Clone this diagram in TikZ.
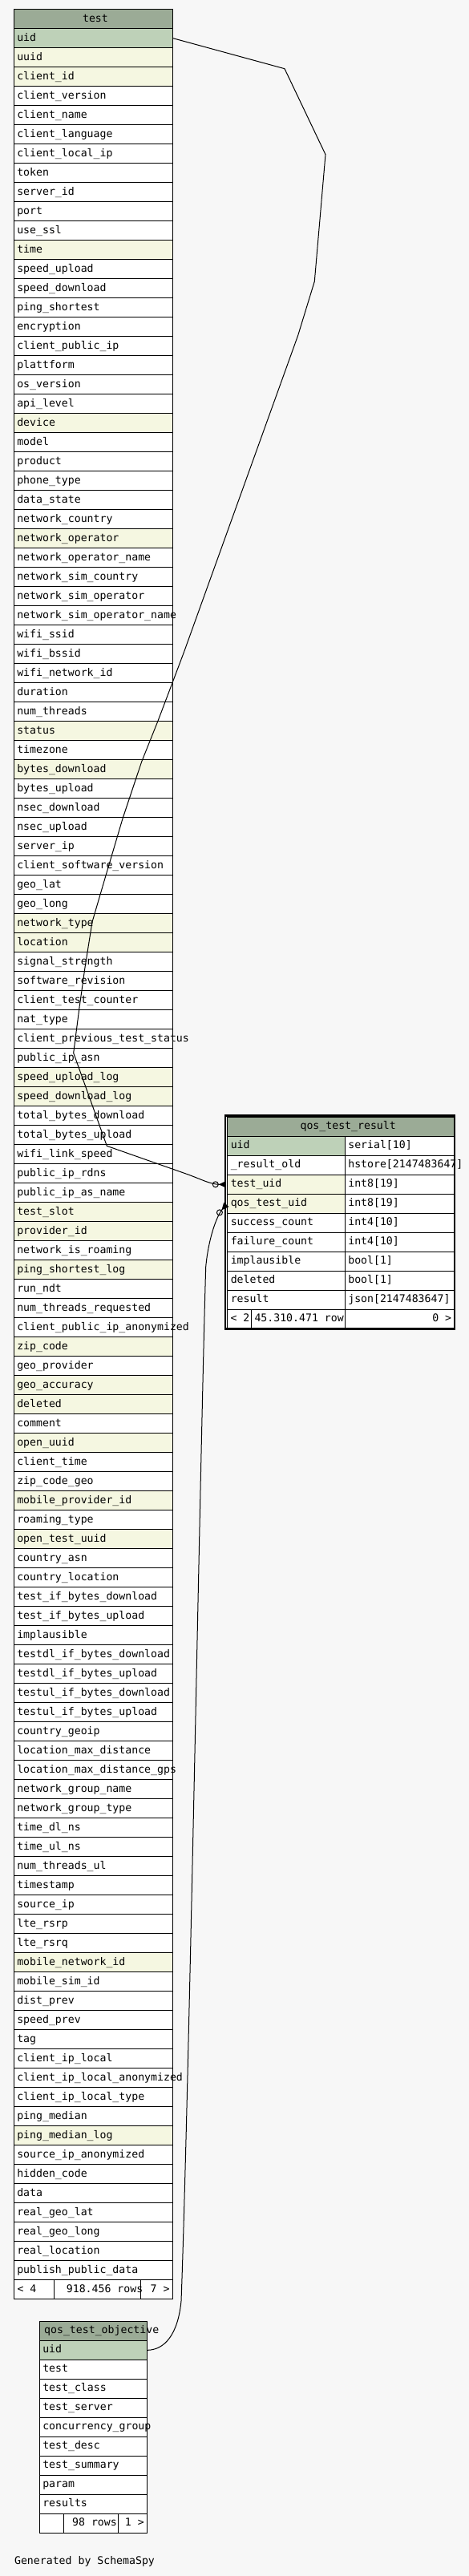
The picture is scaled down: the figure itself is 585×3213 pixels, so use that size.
\documentclass[tikz,border=0pt]{standalone}
\usepackage{fontspec}
\setmainfont{DejaVu Sans Mono}
\usetikzlibrary{arrows.meta}
\definecolor{diagbg}{HTML}{F7F7F7}
\definecolor{headgreen}{HTML}{9BAB96}
\definecolor{pkgreen}{HTML}{BED1B8}
\definecolor{ixyellow}{HTML}{F5F7E1}
\tikzset{
  celltext/.style={inner sep=0pt, text height=10pt, text depth=3pt,
    font=\fontsize{13.2pt}{15pt}\selectfont},
  plaincol/.style={celltext, draw, line width=1pt, fill=white,
    minimum height=24pt, inner xsep=4pt},
  headcol/.style={plaincol, fill=headgreen},
  pkcol/.style={plaincol, fill=pkgreen},
  ixcol/.style={plaincol, fill=ixyellow},
  fk/.style={line width=1pt, shorten >=1.5pt,
    -{Circle[open,length=8pt] Triangle[reversed,length=9pt,width=8pt]}}
}
\begin{document}
\begin{tikzpicture}[x=1pt, y=-1pt]
\useasboundingbox (0,0) rectangle (585,3213);
\fill[diagbg] (0,0) rectangle (585,3213);

% table test
\node[headcol, minimum width=198pt] (test) at (116.3,23.7) {};
\node[celltext] (test-title) at (119,23.7) {test};
\foreach \colname/\colstyle [count=\i] in {uid/pkcol, uuid/ixcol, client\_id/ixcol,
  client\_version/plaincol, client\_name/plaincol, client\_language/plaincol,
  client\_local\_ip/plaincol, token/plaincol, server\_id/plaincol, port/plaincol,
  use\_ssl/plaincol, time/ixcol, speed\_upload/plaincol, speed\_download/plaincol,
  ping\_shortest/plaincol, encryption/plaincol, client\_public\_ip/plaincol,
  plattform/plaincol, os\_version/plaincol, api\_level/plaincol, device/ixcol,
  model/plaincol, product/plaincol, phone\_type/plaincol, data\_state/plaincol,
  network\_country/plaincol, network\_operator/ixcol, network\_operator\_name/plaincol,
  network\_sim\_country/plaincol, network\_sim\_operator/plaincol,
  network\_sim\_operator\_name/plaincol, wifi\_ssid/plaincol, wifi\_bssid/plaincol,
  wifi\_network\_id/plaincol, duration/plaincol, num\_threads/plaincol, status/ixcol,
  timezone/plaincol, bytes\_download/ixcol, bytes\_upload/plaincol,
  nsec\_download/plaincol, nsec\_upload/plaincol, server\_ip/plaincol,
  client\_software\_version/plaincol, geo\_lat/plaincol, geo\_long/plaincol,
  network\_type/ixcol, location/ixcol, signal\_strength/plaincol,
  software\_revision/plaincol, client\_test\_counter/plaincol, nat\_type/plaincol,
  client\_previous\_test\_status/plaincol, public\_ip\_asn/plaincol,
  speed\_upload\_log/ixcol, speed\_download\_log/ixcol, total\_bytes\_download/plaincol,
  total\_bytes\_upload/plaincol, wifi\_link\_speed/plaincol, public\_ip\_rdns/plaincol,
  public\_ip\_as\_name/plaincol, test\_slot/ixcol, provider\_id/ixcol,
  network\_is\_roaming/plaincol, ping\_shortest\_log/ixcol, run\_ndt/plaincol,
  num\_threads\_requested/plaincol, client\_public\_ip\_anonymized/plaincol,
  zip\_code/ixcol, geo\_provider/plaincol, geo\_accuracy/ixcol, deleted/ixcol,
  comment/plaincol, open\_uuid/ixcol, client\_time/plaincol, zip\_code\_geo/plaincol,
  mobile\_provider\_id/ixcol, roaming\_type/plaincol, open\_test\_uuid/ixcol,
  country\_asn/plaincol, country\_location/plaincol, test\_if\_bytes\_download/plaincol,
  test\_if\_bytes\_upload/plaincol, implausible/plaincol,
  testdl\_if\_bytes\_download/plaincol, testdl\_if\_bytes\_upload/plaincol,
  testul\_if\_bytes\_download/plaincol, testul\_if\_bytes\_upload/plaincol,
  country\_geoip/plaincol, location\_max\_distance/plaincol,
  location\_max\_distance\_gps/plaincol, network\_group\_name/plaincol,
  network\_group\_type/plaincol, time\_dl\_ns/plaincol, time\_ul\_ns/plaincol,
  num\_threads\_ul/plaincol, timestamp/plaincol, source\_ip/plaincol, lte\_rsrp/plaincol,
  lte\_rsrq/plaincol, mobile\_network\_id/ixcol, mobile\_sim\_id/plaincol,
  dist\_prev/plaincol, speed\_prev/plaincol, tag/plaincol, client\_ip\_local/plaincol,
  client\_ip\_local\_anonymized/plaincol, client\_ip\_local\_type/plaincol,
  ping\_median/plaincol, ping\_median\_log/ixcol, source\_ip\_anonymized/plaincol,
  hidden\_code/plaincol, data/plaincol, real\_geo\_lat/plaincol, real\_geo\_long/plaincol,
  real\_location/plaincol, publish\_public\_data/plaincol}
  \node[\colstyle, minimum width=198pt] (test-\i) at (116.3,23.7+24*\i)
    {\makebox[190pt][l]{\colname}};
\node[plaincol, minimum width=50pt] (test-f1) at (42.3,2855.7) {};
\node[plaincol, minimum width=108pt] (test-f2) at (121.3,2855.7) {};
\node[plaincol, minimum width=40pt] (test-f3) at (195.3,2855.7) {};
\node[celltext, anchor=west] (test-prev) at (21.3,2855.7) {< 4};
\node[celltext, anchor=west] (test-rows) at (82.7,2855.7) {918.456 rows};
\node[celltext, anchor=east] (test-next) at (211.7,2855.7) {7 >};

% table qos_test_result
\node[headcol, minimum width=282.2pt] (res) at (424.9,1405.3) {};
\node[celltext] (res-title) at (434.2,1405.3) {qos\_test\_result};
\foreach \colname/\coltype/\colstyle [count=\i] in {uid/serial[10]/pkcol,
  \_result\_old/hstore[2147483647]/plaincol, test\_uid/int8[19]/ixcol,
  qos\_test\_uid/int8[19]/ixcol, success\_count/int4[10]/plaincol,
  failure\_count/int4[10]/plaincol, implausible/bool[1]/plaincol,
  deleted/bool[1]/plaincol, result/json[2147483647]/plaincol}
{
  \node[\colstyle, minimum width=146.5pt] (res-\i) at (357.05,1405.3+24*\i)
    {\makebox[138.5pt][l]{\colname}};
  \node[plaincol, minimum width=135.7pt] (res-\i-type) at (498.15,1405.3+24*\i)
    {\makebox[127.7pt][l]{\coltype}};
}
\node[plaincol, minimum width=29.5pt] (res-f1) at (298.55,1645.3) {};
\node[plaincol, minimum width=117pt] (res-f2) at (371.8,1645.3) {};
\node[plaincol, minimum width=135.7pt] (res-f3) at (498.15,1645.3) {};
\node[celltext, anchor=west] (res-prev) at (287.3,1645.3) {< 2};
\node[celltext, anchor=west] (res-rows) at (317.3,1645.3) {45.310.471 row};
\node[celltext, anchor=east] (res-next) at (563.3,1645.3) {0 >};

% table qos_test_objective
\node[headcol, minimum width=134pt] (obj) at (116.3,2907.3) {};
\node[celltext, anchor=west] (obj-title) at (55,2907.3) {qos\_test\_objective};
\foreach \colname/\colstyle [count=\i] in {uid/pkcol, test/plaincol,
  test\_class/plaincol, test\_server/plaincol, concurrency\_group/plaincol,
  test\_desc/plaincol, test\_summary/plaincol, param/plaincol, results/plaincol}
  \node[\colstyle, minimum width=134pt] (obj-\i) at (116.3,2907.3+24*\i)
    {\makebox[126pt][l]{\colname}};
\node[plaincol, minimum width=30pt] (obj-f1) at (64.3,3147.3) {};
\node[plaincol, minimum width=68pt] (obj-f2) at (113.3,3147.3) {};
\node[plaincol, minimum width=36pt] (obj-f3) at (165.3,3147.3) {};
\node[celltext, anchor=west] (obj-rows) at (90,3147.3) {98 rows};
\node[celltext, anchor=east] (obj-next) at (180,3147.3) {1 >};

% relations
\draw[fk] (test-1.east) -- (355,85.7) -- (406,192.7) -- (392.3,351) -- (371.7,418.3)
  -- (229.6,813) -- (215,851.7) -- (196.7,900) -- (176.7,950) -- (153.3,1020)
  -- (131.7,1093) -- (115,1150) -- (106,1206.7) -- (99,1256.7) -- (91.7,1313.3)
  -- (133.3,1429.3) -- (230,1463.3) .. controls (252,1471) and (262,1477.3) .. (res-3.west);
\draw[fk] (obj-1.east) .. controls (205,2931) and (222,2912) .. (226,2870)
  .. controls (236,2600) and (250,1800) .. (256.7,1580)
  .. controls (260,1545) and (270,1517) .. (res-4.west);

% focused table border
\node[draw, line width=2.5pt, minimum width=286.2pt, minimum height=266pt, inner sep=0pt]
  (res-frame) at (424.1,1524.3) {};

\node[celltext, anchor=west] (credit) at (17.9,3194.8) {Generated by SchemaSpy};
\end{tikzpicture}
\end{document}
